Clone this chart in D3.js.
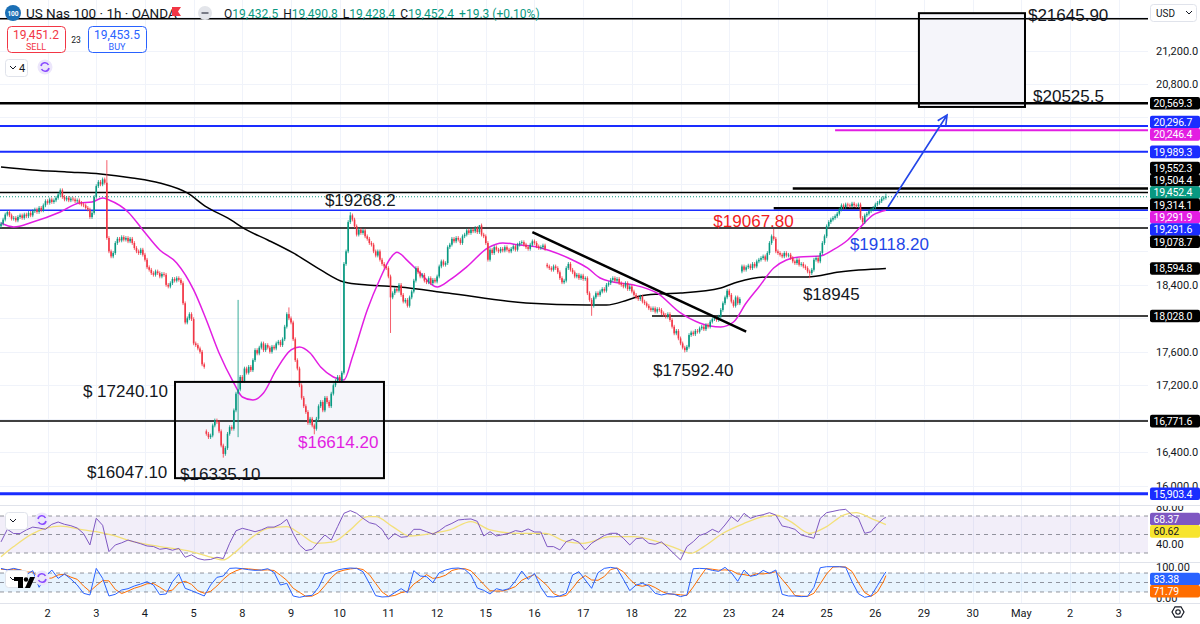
<!DOCTYPE html>
<meta charset="utf-8">
<head>
<style>
body { margin: 0; background: #fff; }
svg { display: block; font-family: Roboto, "Liberation Sans", sans-serif; }
.tick { font-size: 11px; fill: #131722; }
.lab { font-size: 10.5px; letter-spacing: -0.2px; }
.note { font-family: "Liberation Sans", Arial, sans-serif; font-size: 17px; }
</style>
</head>
<body>
<svg width="1200" height="624"></svg>
<script src="https://d3js.org/d3.v7.min.js"></script>
<script>

// ---- data ----
var dayLabels = ["2","3","4","5","8","9","10","11","12","15","16","17","18","22","23","24","25","26","29","30","May","2","3"];
var firstDayBar = 22, barsPerDay = 23;

var firstOpen = 19100;
var closes = [
  19130,19180,19240,19270,19230,19190,19200,19170,19210,19230,
  19200,19240,19220,19260,19230,19280,19300,19270,19320,19290,
  19350,19400,19380,19420,19390,19410,19440,19480,19530,19450,
  19420,19440,19410,19430,19420,19400,19410,19380,19360,19350,
  19320,19300,19210,19260,19450,19580,19630,19600,19660,19620,
  18960,18800,18740,18780,18900,18950,18930,18970,18940,18960,
  18920,18950,18900,18840,18800,18780,18820,18760,18700,18610,
  18580,18540,18520,18560,18540,18500,18530,18520,18400,18380,
  18420,18470,18450,18480,18460,18420,18180,17950,18000,18050,
  17990,17700,17680,17640,17600,17450,17420,16620,16580,16600,
  16720,16780,16760,16650,16480,16380,16450,16620,16700,16680,
  16900,17100,17150,17300,17250,17400,17350,17420,17380,17500,
  17620,17580,17650,17700,17620,17680,17650,17600,17660,17640,
  17700,17720,17680,17750,17900,18050,18000,17950,17750,17500,
  17400,17200,17050,16950,16880,16750,16800,16720,16680,16800,
  16950,17000,16900,17050,17000,16950,17100,17200,17250,17300,
  17250,17350,18650,18800,19150,19230,19180,19100,19000,19060,
  19020,19050,18980,18950,18900,18880,18800,18750,18800,18700,
  18650,18620,18600,18500,18250,18300,18350,18330,18400,18280,
  18200,18220,18150,18250,18320,18450,18600,18550,18500,18520,
  18450,18430,18480,18420,18460,18440,18500,18620,18680,18640,
  18660,18850,18880,18950,18920,18960,18940,18900,18980,19000,
  19050,19020,19060,19040,19080,19030,19110,19000,18980,18900,
  18700,18820,18780,18850,18820,18800,18830,18810,18850,18820,
  18800,18830,18860,18820,18880,18900,18910,18880,18850,18830,
  18880,18920,18900,18860,18840,18850,18870,18830,18620,18600,
  18580,18620,18600,18550,18480,18430,18450,18600,18650,18580,
  18550,18500,18520,18480,18510,18470,18480,18300,18220,18150,
  18250,18300,18280,18320,18350,18330,18400,18420,18460,18480,
  18450,18470,18420,18400,18380,18420,18350,18380,18320,18280,
  18250,18230,18260,18200,18180,18150,18120,18100,18120,18080,
  18110,18100,18060,18040,18020,18050,17980,17900,17820,17850,
  17760,17700,17650,17620,17660,17800,17830,17810,17850,17840,
  17880,17900,17870,17920,17900,17960,17990,18000,17980,18020,
  18100,18180,18250,18330,18280,18200,18150,18250,18180,18230,
  18620,18580,18610,18630,18600,18650,18620,18680,18700,18720,
  18740,18700,18780,18900,18980,18950,18800,18780,18760,18740,
  18780,18750,18760,18720,18680,18660,18700,18640,18650,18620,
  18600,18560,18540,18580,18700,18720,18680,18780,18900,18980,
  19100,19150,19180,19200,19220,19250,19300,19350,19330,19360,
  19350,19340,19370,19350,19340,19360,19200,19150,19230,19250,
  19280,19300,19320,19360,19380,19400,19430,19440,19452.4
];
var gapOpens = [[97, 16650], [258, 18640], [350, 18560]];
var wickHighs = [[50, 19890], [112, 18220], [136, 18130], [165, 19268.2], [226, 19115], [365, 19067.8], [418, 19490.8]];
var wickLows = [[105, 16335.1], [112, 16580], [148, 16614.2], [184, 17825], [279, 18030], [323, 17592.4], [382, 18480]];

// moving averages, [bar, price]
var pinkMA = [[0,19139],[6,19092],[15,19151],[28,19271],[37,19378],[43,19390],[48,19438],[51,19414],[60,19271],[67,19056],
  [75,18817],[83,18661],[91,18339],[97,17980],[103,17586],[110,17227],[114,17060],[119,17024],[124,17108],[130,17383],
  [137,17622],[141,17658],[146,17586],[151,17419],[157,17299],[162,17263],[166,17538],[173,18100],[179,18470],[184,18720],
  [187,18790],[192,18690],[198,18541],[206,18375],[212,18458],[220,18614],[230,18841],[237,18900],[245,18876],[253,18853],
  [261,18793],[270,18697],[277,18602],[283,18482],[289,18434],[299,18398],[310,18300],[321,18064],[330,17944],[340,17897],
  [346,17956],[352,18183],[358,18375],[365,18602],[371,18697],[377,18733],[387,18745],[393,18817],[400,18936],[406,19092],
  [412,19235],[418,19291.9]];
var blackMA = [[0,19809],[15,19773],[31,19749],[47,19725],[62,19677],[75,19617],[88,19498],[97,19331],[107,19199],[116,19056],
  [126,18936],[138,18781],[151,18578],[162,18434],[173,18398],[188,18375],[211,18303],[248,18183],[277,18159],[286,18159],
  [296,18219],[302,18267],[311,18291],[321,18303],[340,18363],[348,18434],[362,18494],[381,18494],[396,18554],[418,18594.8]];

// RSI and stochastic, one sample every 3 bars, last sample on the last bar
var rsi = [42,55.6,51,51,55,58,57,55.6,61,63.5,
  61,59.5,57,51,38.7,67.5,60,31.5,38.7,41,
  44,42,40,37.6,37,34,35,33,35,25.4,
  28,24,22.5,23,25.4,24,40.5,54,56.7,55,
  53,55,58,58,61,66.4,51,38.7,32.6,34,
  42,49.5,44,58.5,72.9,75.8,72.9,67.5,62.8,61,
  55.6,44.8,51,47,47.7,55.6,55.6,53,50.5,54,
  59,62,65.7,66.4,66.8,64.2,48.4,53,48.4,49.8,
  51.3,54.2,53,56,52.7,52.7,36.9,36.9,33.3,42.3,
  44.8,41.6,33.3,40.5,44.8,49,51.3,51.3,45.9,38.7,
  45.5,46.2,40.5,39.4,42,35.8,29,22.5,36.9,42.3,
  49,51.3,55.6,52.4,60.3,69.3,63.9,72.9,67.5,70,
  71.4,73.6,71,59.2,57.8,55.6,49.5,47.7,45.9,67.5,
  73.6,75,76.5,77.2,71,67.5,51.3,53,61.4,67.5,68.37];
var rsiMA = [[0,26],[6,37],[15,51],[28,59],[39,55],[45,53],[52,49.5],[63,42],[75,37],[88,32.6],[97,27],[105,22.5],
  [110,29.7],[119,47.7],[126,56.7],[135,58.5],[141,51.3],[149,40.5],[157,42],[165,55],[173,69.3],[177,69.3],[185,58.5],
  [193,48.4],[204,51.3],[212,55],[222,64],[231,55],[244,51.3],[257,51.3],[267,42.3],[275,40.5],[288,47.7],[299,47.7],
  [310,42.3],[319,35],[326,29.7],[332,36.9],[341,51.3],[351,62],[360,69.3],[366,71],[373,64],[382,51.3],[390,58.5],
  [398,71],[404,73.6],[411,67.5],[418,60.62]];
var stochK = [94.7,89.5,94.7,89.5,74.7,87.4,34.8,68.4,89.5,63,
  76.8,61,42,15.8,10.5,94.7,63,7.3,12.6,26.3,
  30.5,39,45.3,52.6,42,11.5,13.7,52.6,76.8,31.6,
  24.2,15.8,7.3,42,66.3,70.5,94.7,95.8,93.7,90.5,
  88.4,89.5,93.7,82,42,47.4,7.3,3,7.3,9.4,
  34.8,76.8,83,89.5,93.7,95.8,94.7,84.2,47.4,8.4,
  4.2,5.3,17.9,30.5,17.9,87.4,70.5,68.4,49.5,81,
  89.5,94.7,95.8,91.6,73.7,32.6,25.2,13.7,30.5,25.2,
  30.5,54.7,86.3,60,79,34.8,5.3,4.2,7.3,15.8,
  73.7,84.2,57.9,31.6,81,94.7,97.9,94.7,60,24.2,
  42,47.4,39,15.8,10.5,14.7,12.6,5.3,10.5,93.7,
  94.7,93.7,88.4,85.3,97.9,81,53.7,89.5,69.5,73.7,
  88.4,78.9,89.5,12.6,7.3,7.3,5.3,6.3,34.8,96.8,
  100,100,100,97.9,52.6,14.7,3,7.3,40,73.7,83.38];
var stochD = [92,91,92,91,83,83,65,63,64,74,
  76,67,60,39,22,40,56,55,28,15,
  23,32,38,46,47,35,22,26,48,54,
  44,24,16,22,39,60,77,87,94,93,
  91,89,90,88,73,57,32,19,6,7,
  17,40,65,83,89,93,95,91,75,47,
  20,6,9,18,22,45,59,75,63,66,
  73,88,93,94,87,66,44,24,23,23,
  29,37,57,67,75,58,40,15,6,9,
  32,58,72,58,57,69,91,96,84,60,
  42,38,43,34,22,14,13,11,9,36,
  66,94,92,89,90,88,77,75,71,78,
  77,80,84,60,36,9,7,6,16,46,
  77,99,100,99,85,50,18,6,20,55,71.79];

// horizontal levels: price and the bar they start from (null = whole width)
var levelPrices = [21580, 20569.3, 20296.7, 20246.4, 19989.3, 19552.3, 19504.4, 19314.1, 19291.6, 19078.7, 18028.0, 16771.6, 15903.4];
var levelStart  = [null, null, null, 394, null, 374, null, 365, null, null, 307.5, null, null];
var levelKind   = ["black", "blackBold", "blue", "pink", "blue", "blackBold", "black", "blackBold", "blueThin", "black", "black", "black", "blueBold"];
var levelLabel  = [false, true, true, true, true, true, true, true, true, true, true, true, true];

var lastPrice = 19452.4;
var priceTicks = [21200, 20800, 18400, 17600, 17200, 16400, 16000];

var trendLine = [[251, 19030], [352, 17840]];
var arrowLine = [[419, 19330], [446.9, 20430]];
var zones = [[82.2, 180.9, 17240.1, 16090], [433.6, 483.7, 21645.9, 20525.5]];
var notes = [
  [153, 19342, "$19268.2", "dark"],
  [336.5, 19092, "$19067.80", "red"],
  [401, 18817, "$19118.20", "blue"],
  [378.8, 18219, "$18945", "dark"],
  [308, 17311, "$17592.40", "dark"],
  [38.7, 17060, "$ 17240.10", "dark"],
  [40.6, 16092, "$16047.10", "dark"],
  [84.6, 16068, "$16335.10", "dark"],
  [140.3, 16451, "$16614.20", "pink"],
  [485.1, 21553, "$21645.90", "dark"],
  [487.5, 20585, "$20525.5", "dark"]
];

// ---- styles ----
var UP = "#089981", DOWN = "#f23645";
var kindStyle = {
  black: ["#000", 1.5], blackBold: ["#000", 2.5], blue: ["#1a2dff", 2],
  blueThin: ["#1a2dff", 1.5], blueBold: ["#1a2dff", 3], pink: ["#e21ee2", 2]
};
var noteColor = { dark: "#131722", red: "#f0201e", blue: "#2346e8", pink: "#e21ee2" };

var svg = d3.select("svg");
var plotR = 1148, lastBar = closes.length - 1;

var x = d3.scaleLinear().domain([0, 418]).range([1, 885.9]);
var y = d3.scaleLinear().domain([16000, 21200]).range([485.7, 50.5]);
var yR = d3.scaleLinear().domain([30, 70]).range([553, 516]);
var yS = d3.scaleLinear().domain([0, 100]).range([598.3, 566.7]);

var defs = svg.append("defs");
function addClip(id, x0, y0, x1, y1) {
  defs.append("clipPath").attr("id", id).append("rect")
    .attr("x", x0).attr("y", y0).attr("width", x1 - x0).attr("height", y1 - y0);
}
addClip("cMain", 0, 0, plotR, 505);
addClip("cRsi", 0, 506, plotR, 562);
addClip("cSto", 0, 563, plotR, 603);
addClip("aMain", plotR, 0, 1200, 505);
addClip("aRsi", plotR, 506, 1200, 562);
addClip("aSto", plotR, 563, 1200, 603);

// grid
var grid = svg.append("g").attr("stroke", "#f0f3fa").attr("stroke-width", 1);
dayLabels.forEach(function(d, i) {
  var gx = Math.round(x(firstDayBar + i * barsPerDay)) + 0.5;
  grid.append("line").attr("x1", gx).attr("x2", gx).attr("y1", 0).attr("y2", 603);
});
d3.range(16000, 21601, 400).forEach(function(p) {
  var gy = Math.round(y(p)) + 0.5;
  grid.append("line").attr("x1", 0).attr("x2", plotR).attr("y1", gy).attr("y2", gy);
});

// pane separators
[505.5, 562.5, 603.5].forEach(function(sy) {
  svg.append("line").attr("x1", 0).attr("x2", 1200).attr("y1", sy).attr("y2", sy)
    .attr("stroke", "#e0e3eb");
});

var main = svg.append("g").attr("clip-path", "url(#cMain)");

// zone fills
main.selectAll(".zoneFill").data(zones).enter().append("rect")
  .attr("x", function(d) { return x(d[0]); })
  .attr("width", function(d) { return x(d[1]) - x(d[0]); })
  .attr("y", function(d) { return y(d[2]); })
  .attr("height", function(d) { return y(d[3]) - y(d[2]); })
  .attr("fill", "#f5f5fa");

// horizontal levels
levelPrices.forEach(function(p, i) {
  var st = kindStyle[levelKind[i]];
  main.append("line")
    .attr("x1", levelStart[i] == null ? 0 : x(levelStart[i])).attr("x2", plotR)
    .attr("y1", y(p)).attr("y2", y(p))
    .attr("stroke", st[0]).attr("stroke-width", st[1]);
});
main.append("line").attr("x1", 0).attr("x2", plotR)
  .attr("y1", y(lastPrice)).attr("y2", y(lastPrice))
  .attr("stroke", UP).attr("stroke-width", 1).attr("stroke-dasharray", "1,2");

// moving averages
var maLine = d3.line().x(function(d) { return x(d[0]); }).y(function(d) { return y(d[1]); }).curve(d3.curveMonotoneX);
main.append("path").attr("d", maLine(blackMA)).attr("fill", "none").attr("stroke", "#000").attr("stroke-width", 1.5);
main.append("path").attr("d", maLine(pinkMA)).attr("fill", "none").attr("stroke", "#e21ee2").attr("stroke-width", 1.5);

// candles
var WICK = 22;
var bars = closes.map(function(c, i) { return { i: i, o: i === 0 ? firstOpen : closes[i - 1], c: c }; });
gapOpens.forEach(function(g) { bars[g[0]].o = g[1]; });
bars.forEach(function(b) {
  b.h = Math.max(b.o, b.c) + WICK;
  b.l = Math.min(b.o, b.c) - WICK;
});
wickHighs.forEach(function(w) { bars[w[0]].h = w[1]; });
wickLows.forEach(function(w) { bars[w[0]].l = w[1]; });

var candle = main.selectAll(".candle").data(bars).enter().append("g");
candle.append("line")
  .attr("x1", function(d) { return x(d.i); }).attr("x2", function(d) { return x(d.i); })
  .attr("y1", function(d) { return y(d.h); }).attr("y2", function(d) { return y(d.l); })
  .attr("stroke", function(d) { return d.c >= d.o ? UP : DOWN; }).attr("stroke-width", 0.8);
candle.append("rect")
  .attr("x", function(d) { return x(d.i) - 0.8; }).attr("width", 1.6)
  .attr("y", function(d) { return y(Math.max(d.o, d.c)); })
  .attr("height", function(d) { return Math.max(0.8, Math.abs(y(d.o) - y(d.c))); })
  .attr("fill", function(d) { return d.c >= d.o ? UP : DOWN; });

// zone outlines
main.selectAll(".zoneEdge").data(zones).enter().append("rect")
  .attr("x", function(d) { return x(d[0]); })
  .attr("width", function(d) { return x(d[1]) - x(d[0]); })
  .attr("y", function(d) { return y(d[2]); })
  .attr("height", function(d) { return y(d[3]) - y(d[2]); })
  .attr("fill", "none").attr("stroke", "#000").attr("stroke-width", 2);

// trend line and arrow
main.append("line")
  .attr("x1", x(trendLine[0][0])).attr("y1", y(trendLine[0][1]))
  .attr("x2", x(trendLine[1][0])).attr("y2", y(trendLine[1][1]))
  .attr("stroke", "#000").attr("stroke-width", 2.5);

var ax0 = x(arrowLine[0][0]), ay0 = y(arrowLine[0][1]);
var ax1 = x(arrowLine[1][0]), ay1 = y(arrowLine[1][1]);
var ang = Math.atan2(ay1 - ay0, ax1 - ax0);
var headPts = [ang + Math.PI - 0.45, ang + Math.PI + 0.45].map(function(a) {
  return [ax1 + 11 * Math.cos(a), ay1 + 11 * Math.sin(a)];
});
main.append("path")
  .attr("d", "M" + ax0 + "," + ay0 + "L" + ax1 + "," + ay1 +
    "M" + headPts[0] + "L" + ax1 + "," + ay1 + "L" + headPts[1])
  .attr("fill", "none").attr("stroke", "#2346e8").attr("stroke-width", 1.6);

// text notes
main.selectAll(".note").data(notes).enter().append("text")
  .attr("class", "note")
  .attr("x", function(d) { return x(d[0]); })
  .attr("y", function(d) { return y(d[1]); })
  .attr("fill", function(d) { return noteColor[d[3]]; })
  .text(function(d) { return d[2]; });

// ---- RSI pane ----
var rsiG = svg.append("g").attr("clip-path", "url(#cRsi)");
rsiG.append("rect").attr("x", 0).attr("width", plotR).attr("y", yR(70)).attr("height", yR(30) - yR(70))
  .attr("fill", "#7e57c2").attr("fill-opacity", 0.1);
[70, 50, 30].forEach(function(v) {
  rsiG.append("line").attr("x1", 0).attr("x2", plotR).attr("y1", yR(v)).attr("y2", yR(v))
    .attr("stroke", "#787b86").attr("stroke-dasharray", "4,4").attr("stroke-opacity", 0.8);
});
var sampleBar = function(k) { return Math.min(k * 3, lastBar); };
rsiG.append("path")
  .attr("d", d3.line().x(function(d) { return x(d[0]); }).y(function(d) { return yR(d[1]); }).curve(d3.curveMonotoneX)(rsiMA))
  .attr("fill", "none").attr("stroke", "#f3e07a").attr("stroke-width", 1.3);
rsiG.append("path")
  .attr("d", d3.line().x(function(d, k) { return x(sampleBar(k)); }).y(function(d) { return yR(d); })(rsi))
  .attr("fill", "none").attr("stroke", "#7e57c2").attr("stroke-width", 1);

// ---- Stochastic pane ----
var stoG = svg.append("g").attr("clip-path", "url(#cSto)");
stoG.append("rect").attr("x", 0).attr("width", plotR).attr("y", yS(80)).attr("height", yS(20) - yS(80))
  .attr("fill", "#2196f3").attr("fill-opacity", 0.1);
[80, 50, 20].forEach(function(v) {
  stoG.append("line").attr("x1", 0).attr("x2", plotR).attr("y1", yS(v)).attr("y2", yS(v))
    .attr("stroke", "#787b86").attr("stroke-dasharray", "4,4").attr("stroke-opacity", 0.8);
});
var stoLine = d3.line().x(function(d, k) { return x(sampleBar(k)); }).y(function(d) { return yS(d); });
stoG.append("path").attr("d", stoLine(stochD)).attr("fill", "none").attr("stroke", "#ff6d00").attr("stroke-width", 1);
stoG.append("path").attr("d", stoLine(stochK)).attr("fill", "none").attr("stroke", "#2962ff").attr("stroke-width", 1);

// ---- price axis ----
var fmt1 = d3.format(",.1f"), fmt2 = d3.format(".2f");
var LH = 12.3;

var axMain = svg.append("g").attr("clip-path", "url(#aMain)");
axMain.selectAll(".pt").data(priceTicks).enter().append("text")
  .attr("class", "tick").attr("x", 1156).attr("y", function(d) { return y(d) + 4; })
  .text(function(d) { return fmt1(d); });

var mainLabels = [];
levelPrices.forEach(function(p, i) {
  if (!levelLabel[i]) return;
  mainLabels.push({ v: p, bg: kindStyle[levelKind[i]][0], fg: "#fff" });
});
mainLabels.push({ v: lastPrice, bg: UP, fg: "#fff" });
mainLabels.push({ v: pinkMA[pinkMA.length - 1][1], bg: "#e21ee2", fg: "#fff" });
mainLabels.push({ v: blackMA[blackMA.length - 1][1], bg: "#000", fg: "#fff" });
mainLabels.forEach(function(d) { d.y0 = y(d.v); d.text = fmt1(d.v); });

// spread overlapping labels around their common centre
function spreadCentered(items) {
  items.sort(function(a, b) { return a.y0 - b.y0; });
  var groups = items.map(function(d) { return { items: [d], c: d.y0 }; });
  var merged = true;
  while (merged) {
    merged = false;
    for (var i = 0; i < groups.length - 1; i++) {
      var g1 = groups[i], g2 = groups[i + 1];
      var bot = g1.c + (g1.items.length - 1) * LH / 2;
      var top = g2.c - (g2.items.length - 1) * LH / 2;
      if (top - bot < LH) {
        var all = g1.items.concat(g2.items);
        groups.splice(i, 2, { items: all, c: d3.mean(all, function(d) { return d.y0; }) });
        merged = true;
        break;
      }
    }
  }
  groups.forEach(function(g) {
    g.items.forEach(function(d, j) { d.y = g.c + (j - (g.items.length - 1) / 2) * LH; });
  });
}
// push labels down below fixed ticks
function spreadDown(items) {
  items.sort(function(a, b) { return a.y0 - b.y0; });
  items.forEach(function(d, i) { d.y = i === 0 ? d.y0 : Math.max(d.y0, items[i - 1].y + LH); });
}
spreadCentered(mainLabels);

function drawLabels(g, items) {
  var lab = g.selectAll(null).data(items.filter(function(d) { return d.bg; })).enter().append("g");
  lab.append("rect").attr("x", 1150).attr("width", 50).attr("y", function(d) { return d.y - 6.3; })
    .attr("height", 12.6).attr("rx", 2).attr("fill", function(d) { return d.bg; });
  lab.append("text").attr("class", "lab").attr("x", 1153.5).attr("y", function(d) { return d.y + 3.8; })
    .attr("fill", function(d) { return d.fg; })
    .text(function(d) { return d.text; });
}
drawLabels(axMain, mainLabels);

var axRsi = svg.append("g").attr("clip-path", "url(#aRsi)");
var rsiTicks = [80, 40];
axRsi.selectAll(null).data(rsiTicks).enter().append("text").attr("class", "tick")
  .attr("x", 1156).attr("y", function(d) { return yR(d) + 4; }).text(function(d) { return fmt2(d); });
var rsiLabels = [
  { y0: yR(80) },
  { y0: yR(rsi[rsi.length - 1]), text: fmt2(rsi[rsi.length - 1]), bg: "#7e57c2", fg: "#fff" },
  { y0: yR(rsiMA[rsiMA.length - 1][1]), text: fmt2(rsiMA[rsiMA.length - 1][1]), bg: "#f7e42e", fg: "#131722" }
];
spreadDown(rsiLabels);
drawLabels(axRsi, rsiLabels);

var axSto = svg.append("g").attr("clip-path", "url(#aSto)");
var stoTicks = [100, 0];
axSto.selectAll(null).data(stoTicks).enter().append("text").attr("class", "tick")
  .attr("x", 1156).attr("y", function(d) { return yS(d) + 4; }).text(function(d) { return fmt2(d); });
var stoLabels = [
  { y0: yS(100) },
  { y0: yS(stochK[stochK.length - 1]), text: fmt2(stochK[stochK.length - 1]), bg: "#2962ff", fg: "#fff" },
  { y0: yS(stochD[stochD.length - 1]), text: fmt2(stochD[stochD.length - 1]), bg: "#ff6d00", fg: "#fff" }
];
spreadDown(stoLabels);
drawLabels(axSto, stoLabels);

// ---- time axis ----
svg.selectAll(".day").data(dayLabels).enter().append("text")
  .attr("class", "tick").attr("text-anchor", "middle")
  .attr("x", function(d, i) { return x(firstDayBar + i * barsPerDay); })
  .attr("y", 617).text(function(d) { return d; });

// gear icon
var gear = svg.append("g").attr("transform", "translate(1178,612)");
gear.append("path").attr("d", d3.range(6).map(function(k) {
  var a = k * Math.PI / 3; return (k ? "L" : "M") + (6 * Math.cos(a)).toFixed(2) + "," + (6 * Math.sin(a)).toFixed(2);
}).join("") + "Z").attr("fill", "none").attr("stroke", "#131722").attr("stroke-width", 1.2);
gear.append("circle").attr("r", 2.2).attr("fill", "none").attr("stroke", "#131722").attr("stroke-width", 1.2);

// USD button
svg.append("rect").attr("x", 1150.5).attr("y", 4.5).attr("width", 46).attr("height", 17).attr("rx", 3)
  .attr("fill", "#fff").attr("stroke", "#e0e3eb");
svg.append("text").attr("x", 1156).attr("y", 16.5).attr("font-size", 10).attr("fill", "#131722").text("USD");
svg.append("path").attr("d", "M1186,11 l3,3 l3,-3").attr("fill", "none").attr("stroke", "#131722");

// ---- header ----
var hdr = svg.append("g");
hdr.append("circle").attr("cx", 13).attr("cy", 13).attr("r", 8).attr("fill", "#1b6fb5");
hdr.append("text").attr("x", 13).attr("y", 15.5).attr("text-anchor", "middle").attr("font-size", 6.5)
  .attr("font-weight", "bold").attr("fill", "#fff").text("100");
hdr.append("text").attr("x", 26).attr("y", 18).attr("font-size", 13.5).attr("fill", "#131722")
  .text("US Nas 100 \u00b7 1h \u00b7 OANDA");
hdr.append("path").attr("d", "M172,7 h9 l-3,4.5 l3,4.5 h-9 Z").attr("fill", "#f23645");
hdr.append("circle").attr("cx", 205).attr("cy", 13).attr("r", 7).attr("fill", "#e3e5ea");
hdr.append("line").attr("x1", 201.5).attr("x2", 208.5).attr("y1", 13).attr("y2", 13)
  .attr("stroke", "#787b86").attr("stroke-width", 2);
var ohlc = [["O", "19,432.5"], ["H", "19,490.8"], ["L", "19,428.4"], ["C", "19,452.4"]];
var ot = hdr.append("text").attr("x", 224).attr("y", 17.5).attr("font-size", 12);
ohlc.forEach(function(d, i) {
  ot.append("tspan").attr("fill", "#131722").attr("dx", i ? 5 : 0).text(d[0]);
  ot.append("tspan").attr("fill", UP).text(d[1]);
});
ot.append("tspan").attr("fill", UP).attr("dx", 5).text("+19.3 (+0.10%)");

function tradeBox(x0, col, price, word) {
  hdr.append("rect").attr("x", x0 + 0.5).attr("y", 26.5).attr("width", 58).attr("height", 26).attr("rx", 4)
    .attr("fill", "#fff").attr("stroke", col);
  hdr.append("text").attr("x", x0 + 29).attr("y", 39).attr("text-anchor", "middle").attr("font-size", 12)
    .attr("fill", col).text(price);
  hdr.append("text").attr("x", x0 + 29).attr("y", 49.5).attr("text-anchor", "middle").attr("font-size", 9)
    .attr("fill", col).text(word);
}
tradeBox(7, DOWN, "19,451.2", "SELL");
tradeBox(88, "#2962ff", "19,453.5", "BUY");
hdr.append("text").attr("x", 76).attr("y", 43).attr("text-anchor", "middle").attr("font-size", 8.5)
  .attr("fill", "#131722").text("23");

function chevBox(y0, label) {
  hdr.append("rect").attr("x", 5.5).attr("y", y0 + 0.5).attr("width", 22).attr("height", 17).attr("rx", 3)
    .attr("fill", "#fff").attr("stroke", "#e0e3eb");
  hdr.append("path").attr("d", "M10," + (y0 + 7) + " l3,3 l3,-3").attr("fill", "none").attr("stroke", "#131722");
  if (label) hdr.append("text").attr("x", 19).attr("y", y0 + 13).attr("font-size", 11).attr("fill", "#131722").text(label);
}
function syncIcon(cx, cy) {
  hdr.append("circle").attr("cx", cx).attr("cy", cy).attr("r", 7.5).attr("fill", "#ece6fb");
  hdr.append("path").attr("d", "M" + (cx - 4) + "," + (cy - 1) + " A4,4 0 0 1 " + (cx + 3.5) + "," + (cy - 2) +
    " M" + (cx + 4) + "," + (cy + 1) + " A4,4 0 0 1 " + (cx - 3.5) + "," + (cy + 2))
    .attr("fill", "none").attr("stroke", "#8a4dff").attr("stroke-width", 1.6);
}
chevBox(59, "4");
syncIcon(45, 67);
chevBox(512, null);
syncIcon(42, 520);
chevBox(570, null);
syncIcon(42, 578);

// TradingView mark
var tv = svg.append("g").attr("fill", "#000");
tv.append("rect").attr("x", 14).attr("y", 577).attr("width", 9).attr("height", 4);
tv.append("rect").attr("x", 18).attr("y", 577).attr("width", 5).attr("height", 11);
tv.append("circle").attr("cx", 26).attr("cy", 579.5).attr("r", 2.2);
tv.append("path").attr("d", "M30,577 h5 l-5,11 h-5 Z");

</script>
</body>
</html>
